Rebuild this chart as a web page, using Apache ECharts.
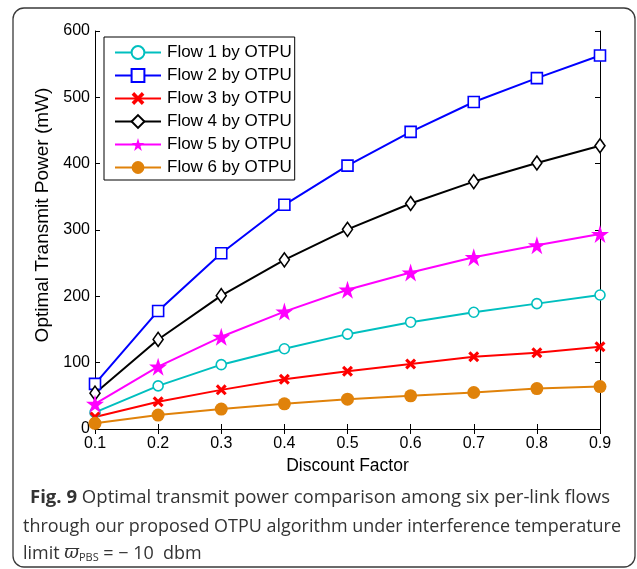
<!DOCTYPE html>
<html><head><meta charset="utf-8">
<script src="https://cdn.jsdelivr.net/npm/echarts@6/dist/echarts.min.js"></script>
<style>html,body{margin:0;padding:0;background:#fff}#c{width:637px;height:569px}</style>
</head><body><div id="c"></div>
<script>
const categories = ['0.1','0.2','0.3','0.4','0.5','0.6','0.7','0.8','0.9'];
const flow1 = [25, 65, 97, 121, 143, 161, 176, 189, 202];
const flow2 = [68, 178, 265, 338, 397, 448, 493, 529, 563];
const flow3 = [18, 41, 59, 75, 87, 98, 109, 115, 124];
const flow4 = [54, 135, 201, 255, 301, 340, 373, 401, 427];
const flow5 = [38, 94, 139, 177, 210, 236, 259, 277, 294];
const flow6 = [8.5, 21, 30, 38, 45, 50, 55, 61, 64];
const seriesNames = ['Flow 1 by OTPU','Flow 2 by OTPU','Flow 3 by OTPU','Flow 4 by OTPU','Flow 5 by OTPU','Flow 6 by OTPU'];
const yTicks = [0,100,200,300,400,500,600];

const X_PATH = 'path://M2,0L5,3L8,0L10,2L7,5L10,8L8,10L5,7L2,10L0,8L3,5L0,2Z';
const STAR_PATH = 'path://M50,0L61,35L98,35L68,57L79,91L50,70L21,91L32,57L2,35L39,35Z';

function mk(name, data, color, symbol, size, filled) {
  return {
    name, type: 'line', data, symbol, symbolSize: size, showAllSymbol: true,
    lineStyle: { color, width: 2 },
    itemStyle: filled ? { color, borderWidth: 0 } : { color: '#fff', borderColor: color, borderWidth: 1.6 },
    emphasis: { disabled: true },
    z: 3
  };
}

// caption text width fitting
const CAP_FONT = 'Open Sans';
const CAP_SIZE = 18;
const mctx = document.createElement('canvas').getContext('2d');
function w(txt, bold, size) {
  mctx.font = (bold ? 'bold ' : '') + (size || CAP_SIZE) + 'px "' + CAP_FONT + '"';
  return mctx.measureText(txt).width;
}
const line1b = 'Fig. 9', line1r = ' Optimal transmit power comparison among six per-link flows';
const line2 = 'through our proposed OTPU algorithm under interference temperature';
const s1 = 580 / (w(line1b, true) + w(line1r, false));
const s2 = 598 / w(line2, false);

const chart = echarts.init(document.getElementById('c'), null, { renderer: 'canvas' });
const FF = 'Liberation Sans, Arial, sans-serif';
const axisFont = { fontFamily: FF, fontSize: 16, color: '#000' };
chart.setOption({
  animation: false,
  backgroundColor: '#fff',
  grid: { left: 95, right: 37, top: 31, bottom: 140, containLabel: false },
  xAxis: [{
    type: 'category', data: categories, boundaryGap: false,
    name: 'Discount Factor', nameLocation: 'middle', nameGap: 27,
    nameTextStyle: { fontFamily: FF, fontSize: 17.5, color: '#000' },
    axisLine: { lineStyle: { color: '#000', width: 1 } },
    axisTick: { inside: true, length: 5, alignWithLabel: true, lineStyle: { color: '#000' } },
    axisLabel: Object.assign({ margin: 7 }, axisFont),
    splitLine: { show: false }
  }, {
    type: 'category', data: categories, boundaryGap: false, position: 'top',
    axisLine: { lineStyle: { color: '#000', width: 1 } },
    axisTick: { inside: true, length: 5, lineStyle: { color: '#000' } },
    axisLabel: { show: false }, splitLine: { show: false }
  }],
  yAxis: [{
    type: 'value', min: 0, max: 600, interval: 100,
    name: 'Optimal Transmit Power (mW)', nameLocation: 'middle', nameGap: 38,
    nameTextStyle: { fontFamily: FF, fontSize: 19, color: '#000', padding: [0, 0, 0, 30] },
    axisLine: { show: true, lineStyle: { color: '#000', width: 1 } },
    axisTick: { show: true, inside: true, length: 5, lineStyle: { color: '#000' } },
    axisLabel: Object.assign({ margin: 5, formatter: v => yTicks.includes(v) ? String(v) : '' }, axisFont),
    splitLine: { show: false }
  }, {
    type: 'value', min: 0, max: 600, interval: 100, position: 'right',
    axisLine: { show: true, lineStyle: { color: '#000', width: 1 } },
    axisTick: { show: true, inside: true, length: 5, lineStyle: { color: '#000' } },
    axisLabel: { show: false }, splitLine: { show: false }
  }],
  legend: {
    orient: 'vertical', left: 104, top: 37,
    data: seriesNames,
    itemWidth: 46, itemHeight: 16, itemGap: 6,
    padding: [7, 3, 4, 10],
    borderColor: '#000', borderWidth: 1, backgroundColor: '#fff',
    textStyle: { fontFamily: FF, fontSize: 17, color: '#000', padding: [0, 0, 0, 1] },
    selectedMode: false
  },
  series: [
    mk(seriesNames[0], flow1, '#00BFBF', 'circle', 10, false),
    mk(seriesNames[1], flow2, '#0000FF', 'rect', 11, false),
    mk(seriesNames[2], flow3, '#FF0000', X_PATH, 11, true),
    mk(seriesNames[3], flow4, '#000000', 'diamond', [10, 14], false),
    mk(seriesNames[4], flow5, '#FF00FF', STAR_PATH, 18, true),
    mk(seriesNames[5], flow6, '#E0820A', 'circle', 13, true)
  ],
  graphic: [
    { type: 'rect', shape: { x: 13, y: 8, width: 622, height: 559, r: 11 },
      style: { fill: 'none', stroke: '#3a3a3a', lineWidth: 1.3 }, z: -1, silent: true },
    { type: 'text', x: 30, y: 489, scaleX: s1,
      style: { text: '{b|' + line1b + '}' + line1r,
        rich: { b: { fontWeight: 'bold', fontFamily: CAP_FONT, fontSize: CAP_SIZE, fill: '#333' } },
        fontFamily: CAP_FONT, fontSize: CAP_SIZE, fill: '#333' } },
    { type: 'text', x: 23, y: 518, scaleX: s2,
      style: { text: line2, fontFamily: CAP_FONT, fontSize: CAP_SIZE, fill: '#333' } },
    { type: 'text', x: 23, y: 544, scaleX: s2,
      style: { text: 'limit {i|ϖ}{s|PBS} = − 10  dbm',
        rich: { i: { fontFamily: 'DejaVu Serif', fontStyle: 'italic', fontSize: CAP_SIZE, fill: '#333' },
                s: { fontFamily: CAP_FONT, fontSize: 11, fill: '#333', padding: [8, 0, 0, 0] } },
        fontFamily: CAP_FONT, fontSize: CAP_SIZE, fill: '#333' } }
  ]
});
</script></body></html>
